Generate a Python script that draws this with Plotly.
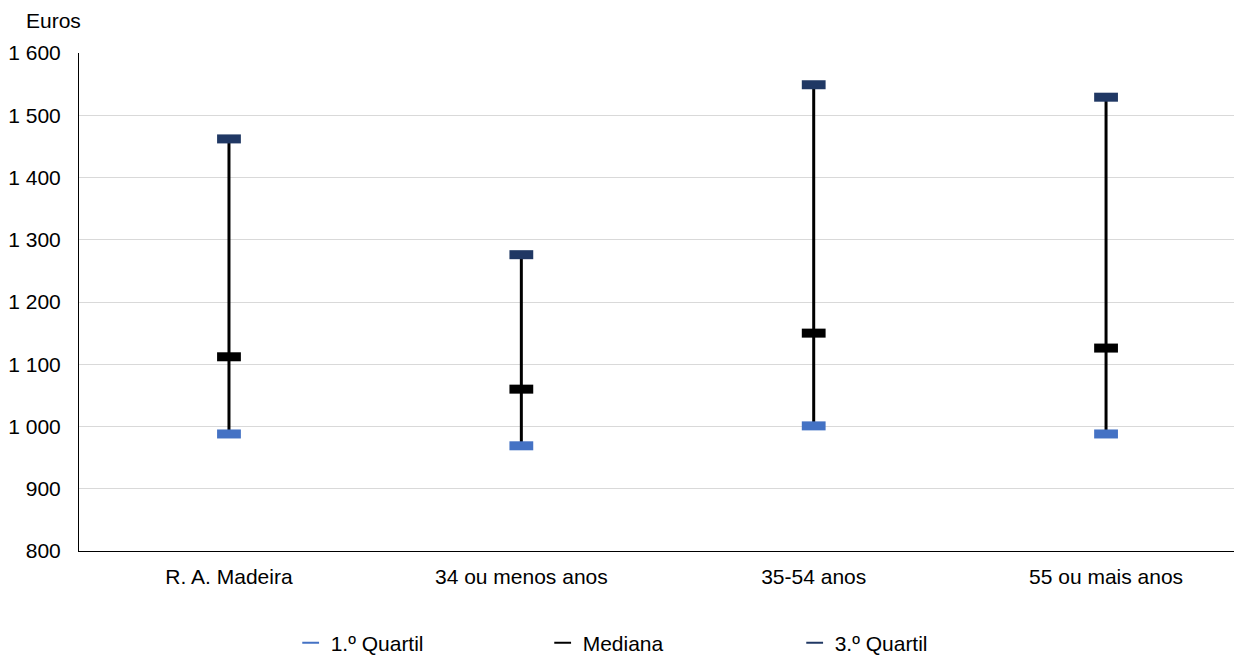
import plotly.graph_objects as go

categories = ["R. A. Madeira", "34 ou menos anos", "35-54 anos", "55 ou mais anos"]
q1 = [988, 969, 1001, 988]
mediana = [1112, 1060, 1150, 1126]
q3 = [1462, 1276, 1549, 1529]

xs = list(range(len(categories)))
FONT = "Liberation Sans, Arial, sans-serif"
FS = 21

fig = go.Figure()

# vertical range lines
lx, ly = [], []
for i in xs:
    lx += [i, i, None]
    ly += [q1[i], q3[i], None]
fig.add_trace(go.Scatter(x=lx, y=ly, mode="lines", line=dict(color="black", width=3),
                         showlegend=False, hoverinfo="skip"))

def add_marker(vals, name, color):
    fig.add_trace(go.Scatter(
        x=xs, y=vals, mode="markers", name=name,
        marker=dict(symbol="line-ew", size=17, color=color,
                    line=dict(color=color, width=9)),
    ))

add_marker(q1, "1.º Quartil", "#4472C4")
add_marker(mediana, "Mediana", "#000000")
add_marker(q3, "3.º Quartil", "#203864")

# page body has an 8px default margin: figure sized/offset to compensate
fig.update_layout(
    width=1234, height=647,
    margin=dict(l=71, r=0, t=45, b=104, autoexpand=False),
    paper_bgcolor="white", plot_bgcolor="white",
    font=dict(family=FONT, size=FS, color="black"),
    separators=", ",
    showlegend=True,
    legend=dict(orientation="h", x=0.182, xanchor="left", y=-0.185, yanchor="middle",
                entrywidth=207, entrywidthmode="pixels", itemsizing="constant",
                font=dict(size=FS), bgcolor="rgba(0,0,0,0)"),
    xaxis=dict(range=[-0.513, 3.465], tickvals=xs, ticktext=categories,
               showgrid=False, zeroline=False, showline=True, linecolor="black",
               linewidth=1, ticks="", ticklabelstandoff=7, fixedrange=True,
               automargin=False),
    yaxis=dict(range=[800, 1600], dtick=100, tickformat=",d", showgrid=True,
               gridcolor="#D9D9D9", gridwidth=1, zeroline=False, showline=True,
               linecolor="black", linewidth=1, ticks="", ticklabelstandoff=13,
               automargin=False),
    annotations=[dict(text="Euros", xref="paper", yref="paper", x=-0.022, y=1.065,
                      xanchor="center", yanchor="middle", showarrow=False,
                      font=dict(size=FS))],
)

fig.write_html("out.html")
